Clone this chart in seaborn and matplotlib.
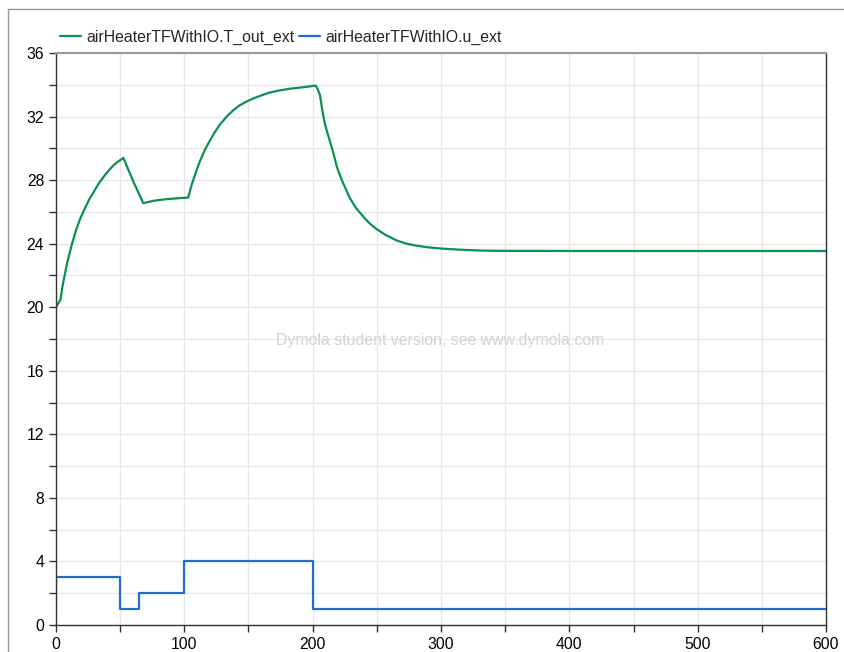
import numpy as np
import pandas as pd
import matplotlib.pyplot as plt
import seaborn as sns
from matplotlib.lines import Line2D
from matplotlib.ticker import MultipleLocator

# Datos (tiempo, temperatura de salida)
t_temp = [0, 3.6, 5, 7, 9, 12.5, 16, 19, 23, 26,
          29, 33, 37, 41, 45, 49, 52.5,
          60.3, 68, 76, 86, 95, 103,
          105.7, 109, 112.2, 116, 120, 124, 127.8, 133, 138.2, 143,
          148.6, 154, 159, 166, 174.5, 182, 190, 196, 202.3,
          204, 205.7, 207.5, 209.6, 212.5, 216.1, 219, 222.7, 226, 229.1,
          234, 239.5, 244, 249.9, 257, 265.5, 273, 281, 290, 299,
          315, 330, 345, 400, 500, 600]
temp_out = [20.0, 20.5, 21.3, 22.1, 22.9, 24.0, 24.95, 25.6, 26.3, 26.8,
            27.2, 27.75, 28.2, 28.6, 28.95, 29.2, 29.4,
            27.9, 26.55, 26.7, 26.8, 26.86, 26.9,
            27.7, 28.5, 29.2, 29.9, 30.5, 31.05, 31.5, 32.0, 32.4, 32.7,
            32.95, 33.15, 33.3, 33.5, 33.65, 33.75, 33.82, 33.88, 33.95,
            33.7, 33.35, 32.4, 31.5, 30.7, 29.7, 28.8, 28.0, 27.4, 26.85,
            26.22, 25.7, 25.3, 24.91, 24.54, 24.2, 24.0, 23.87, 23.77, 23.7,
            23.62, 23.57, 23.55, 23.54, 23.54, 23.54]

# Entrada escalonada u_ext
t_u = [0, 0, 50, 65, 100, 200, 600]
u_ext = [1, 3, 1, 2, 4, 1, 1]

nombre_T = "airHeaterTFWithIO.T_out_ext"
nombre_u = "airHeaterTFWithIO.u_ext"

verde = "#0a9150"
azul = "#1f6fd2"

sns.set_style("white")
plt.rcParams['font.family'] = ['Liberation Sans', 'DejaVu Sans']

df_T = pd.DataFrame({"t": t_temp, "valor": temp_out})
df_u = pd.DataFrame({"t": t_u, "valor": u_ext})

fig = plt.figure(figsize=(8.45, 6.52), dpi=100)
ax = fig.add_axes([56 / 845, 1 - 625 / 652, 770 / 845, 572 / 652])

sns.lineplot(data=df_T, x="t", y="valor", ax=ax, color=verde, lw=1.6,
             estimator=None, sort=False, label=nombre_T)
sns.lineplot(data=df_u, x="t", y="valor", ax=ax, color=azul, lw=1.6,
             estimator=None, sort=False, drawstyle="steps-post", label=nombre_u)

ax.set_xlim(0, 600)
ax.set_ylim(0, 36)
ax.xaxis.set_major_locator(MultipleLocator(100))
ax.xaxis.set_minor_locator(MultipleLocator(50))
ax.yaxis.set_major_locator(MultipleLocator(4))
ax.yaxis.set_minor_locator(MultipleLocator(2))
ax.grid(True, which="both", color="#e8e8e8", lw=1)
ax.set_axisbelow(True)
ax.tick_params(which="both", direction="out", length=5, width=1, color="#333333",
               labelsize=11.3, labelcolor="black", left=True, bottom=True)
ax.set_xlabel("")
ax.set_ylabel("")

for lado in ["left", "bottom", "right"]:
    ax.spines[lado].set_color("#333333")
    ax.spines[lado].set_linewidth(1)
ax.spines["top"].set_color("#999999")
ax.spines["top"].set_linewidth(1.5)

ax.text(0.499, 0.498, "Dymola student version, see www.dymola.com", transform=ax.transAxes,
        ha="center", va="center", fontsize=11.4, color="#d3d3d3")

ax.legend(loc="lower left", bbox_to_anchor=(-0.005, 1.0), ncol=2, frameon=False,
          fontsize=11.4, handlelength=1.3, handletextpad=0.35, columnspacing=0.3,
          borderaxespad=0.3, borderpad=0.2)

# Marco exterior de la captura (arriba e izquierda)
fig.add_artist(Line2D([8 / 845, 1], [1 - 9 / 652, 1 - 9 / 652], color="#999999", lw=1))
fig.add_artist(Line2D([8 / 845, 8 / 845], [0, 1 - 9 / 652], color="#999999", lw=1))

fig.savefig("out.png", dpi=100)
